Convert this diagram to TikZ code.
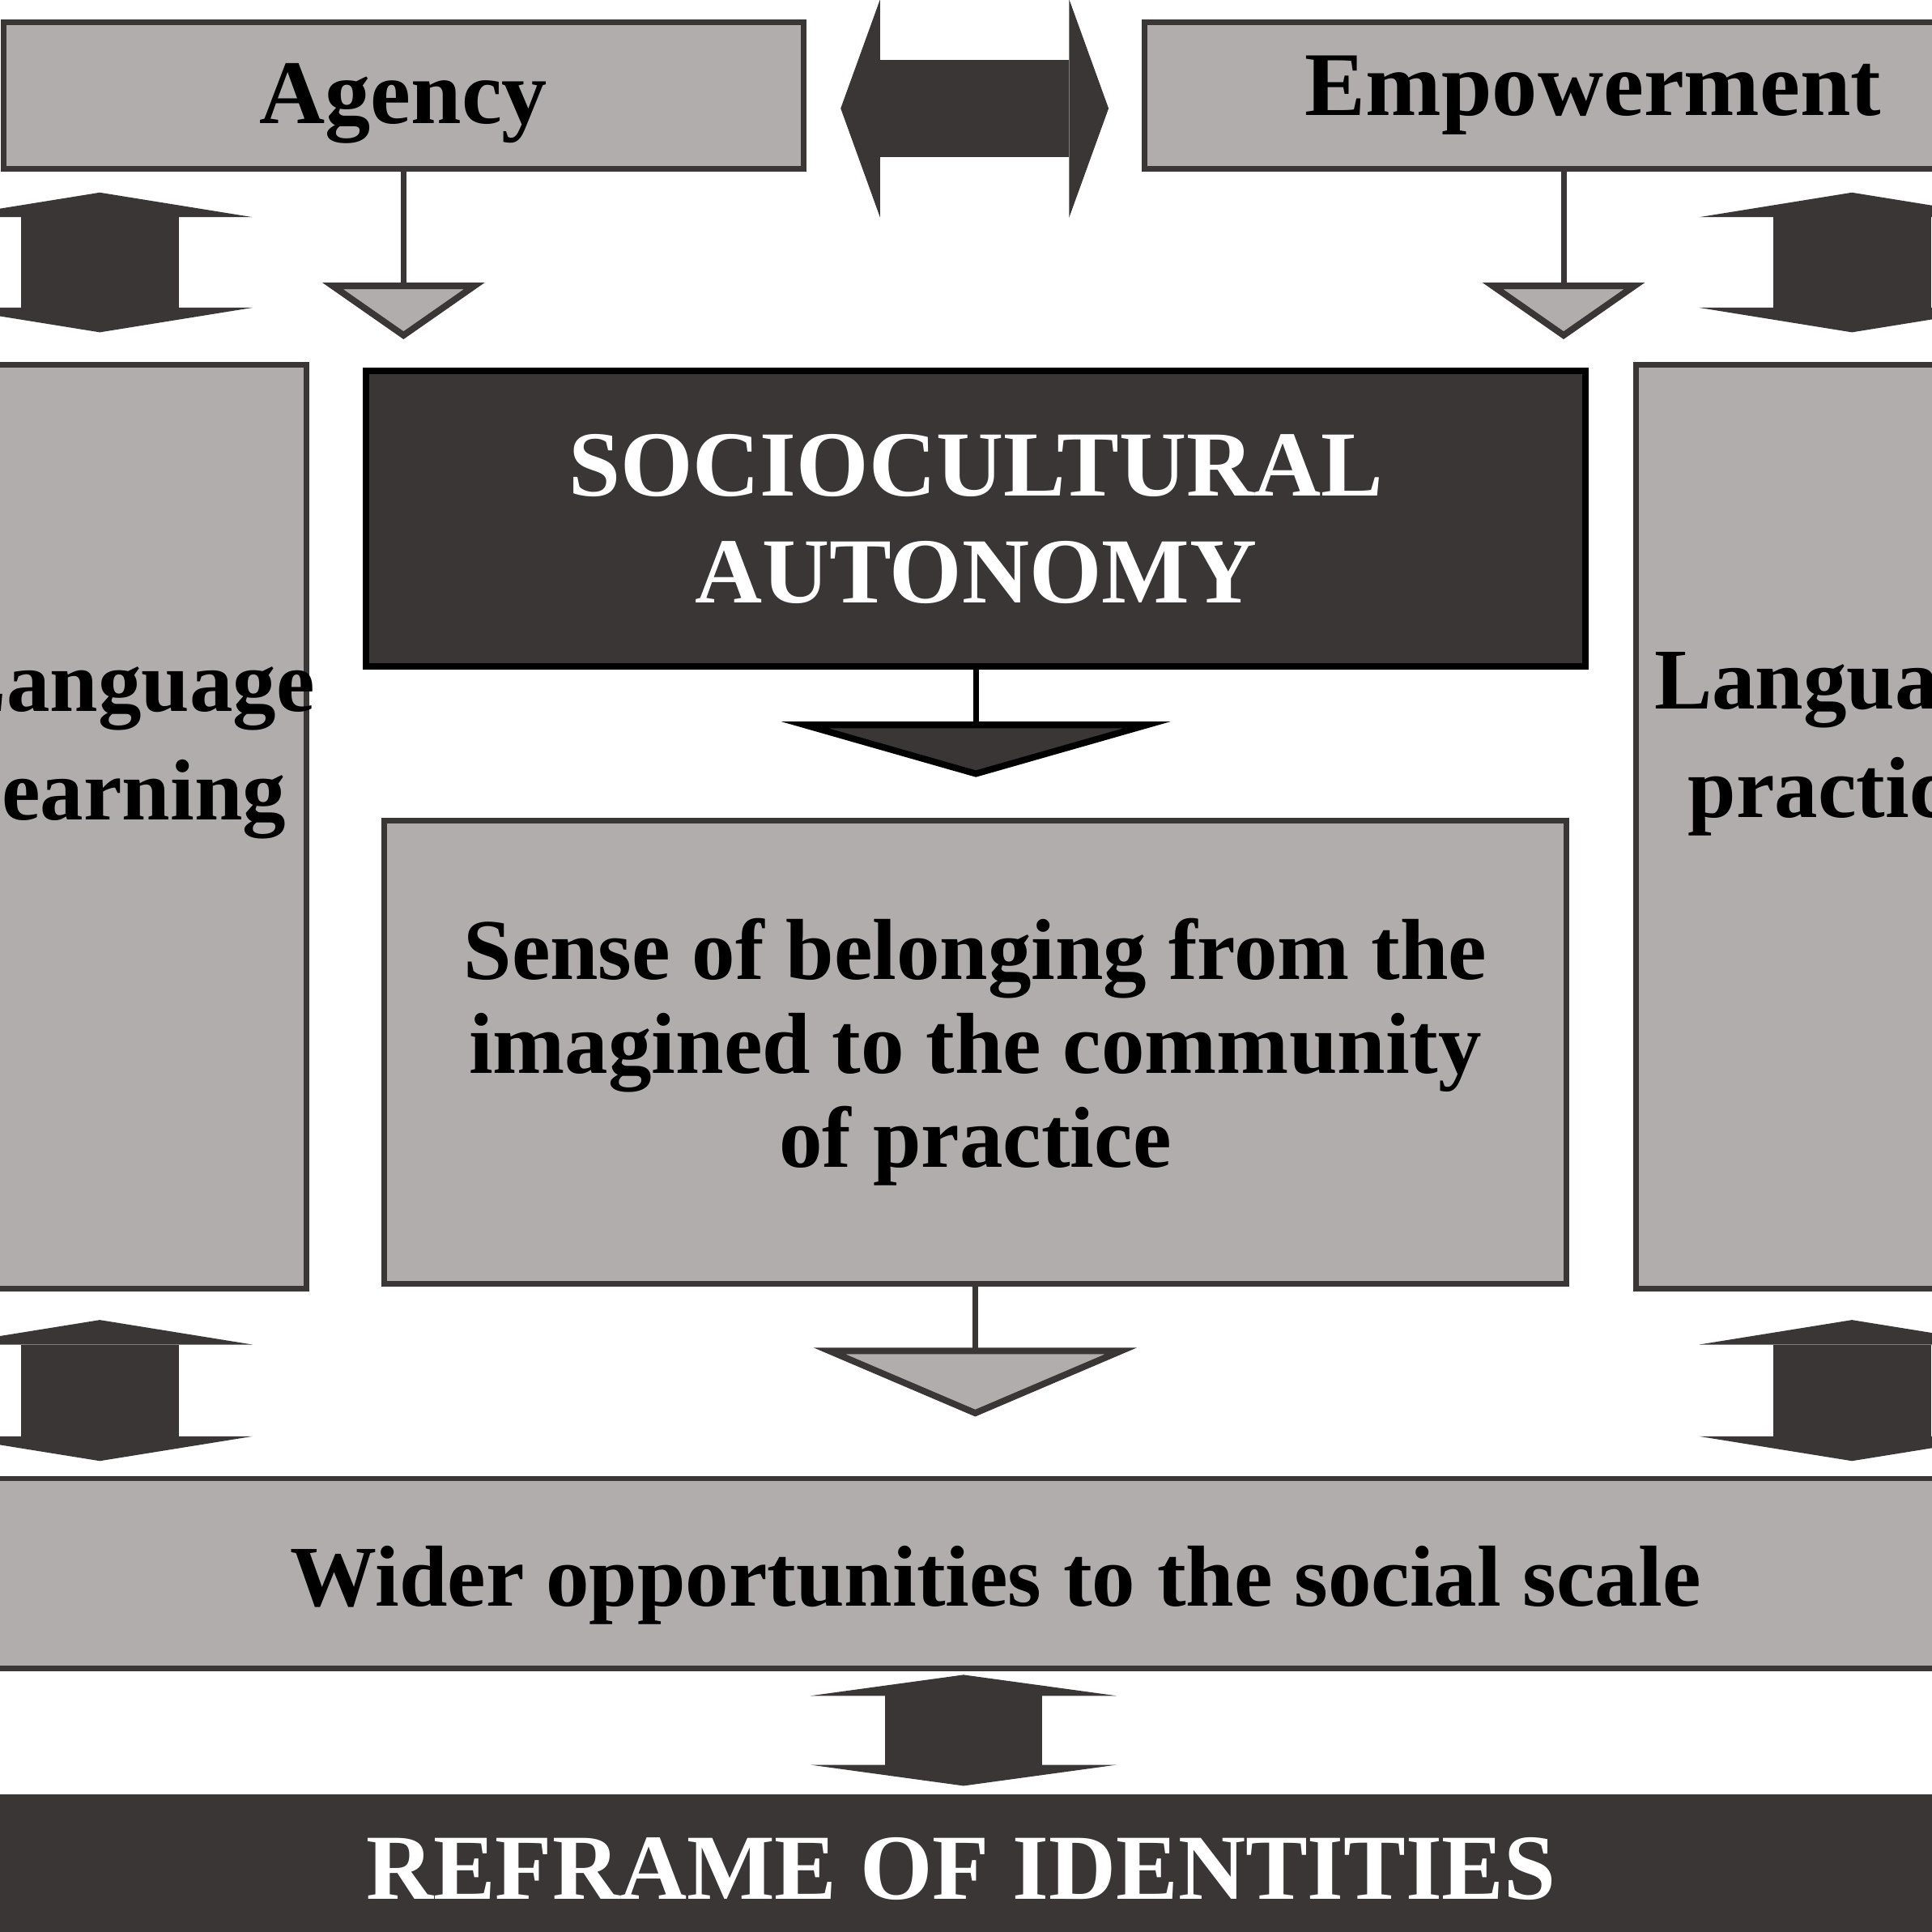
\documentclass[tikz,border=0pt]{standalone}
\usepackage{fontspec}
\setmainfont{Liberation Serif}
\usepackage{tikz}
\usetikzlibrary{
    arrows.meta,
    positioning,
    calc
}
\definecolor{boxgray}{RGB}{178,173,173}
\definecolor{inkdark}{RGB}{58,54,54}
\tikzstyle{graybox} = [
    rectangle,
    draw=inkdark,
    line width=1.3pt,
    fill=boxgray,
    inner sep=0pt,
    align=center,
    font=\bfseries\fontsize{20}{21.7}\selectfont
]
\tikzstyle{darkbox} = [
    rectangle,
    draw=black,
    line width=1.5pt,
    fill=inkdark,
    inner sep=0pt,
    text=white,
    align=center,
    font=\bfseries\fontsize{21.5}{24.7}\selectfont
]
\tikzstyle{boxtext} = [
    align=center,
    inner sep=0pt,
    font=\bfseries\fontsize{20}{25}\selectfont
]
\tikzstyle{flow} = [
    draw=inkdark,
    line width=1.3pt,
    -{Triangle[length=0.46cm 0 0, width=1.31cm 0 0, fill=boxgray, line width=1.5pt]}
]
\tikzstyle{flowwide} = [
    draw=inkdark,
    line width=1.3pt,
    -{Triangle[length=0.56cm 0 0, width=2.62cm 0 0, fill=boxgray, line width=1.5pt]}
]
\tikzstyle{flowdark} = [
    draw=black,
    line width=1.3pt,
    -{Triangle[length=0.45cm 0 0, width=3.15cm 0 0, fill=inkdark, line width=1.5pt]}
]
\tikzstyle{twoway} = [
    draw=inkdark,
    line width=1.28cm,
    {Triangle[length=0.2cm 0 0, width=2.48cm 0 0, line width=0pt 0 0]}-{Triangle[length=0.2cm 0 0, width=2.48cm 0 0, line width=0pt 0 0]}
]
\tikzstyle{twowaylow} = [
    draw=inkdark,
    line width=1.28cm,
    {Triangle[length=0.17cm 0 0, width=2.48cm 0 0, line width=0pt 0 0]}-{Triangle[length=0.17cm 0 0, width=2.48cm 0 0, line width=0pt 0 0]}
]
\tikzstyle{twowayh} = [
    draw=inkdark,
    line width=0.79cm,
    {Triangle[length=0.32cm 0 0, width=1.77cm 0 0, line width=0pt 0 0]}-{Triangle[length=0.32cm 0 0, width=1.77cm 0 0, line width=0pt 0 0]}
]

\begin{document}
\begin{tikzpicture}
    \useasboundingbox (0,0) rectangle (15.68,15.68);
    \clip (0,0) rectangle (15.68,15.68);

    % top row
    \node[graybox, minimum width=6.49cm, minimum height=1.19cm, text height=0.62cm, text depth=0.16cm, font=\bfseries\fontsize{21}{24}\selectfont] (agency) at (3.275,14.905) {Agency};
    \node[graybox, minimum width=7.28cm, minimum height=1.19cm, font=\bfseries\fontsize{21}{24}\selectfont] (empower) at (12.93,14.905) {Empowerment};

    % middle
    \node[darkbox, minimum width=9.9cm, minimum height=2.4cm] (socio) at (7.92,11.47) {SOCIOCULTURAL\\AUTONOMY};
    \node[graybox, minimum width=9.59cm, minimum height=3.76cm] (sense) at (7.915,7.14) {Sense of belonging from the\\imagined to the community\\of practice};

    % side boxes
    \node[graybox, minimum width=2.84cm, minimum height=7.5cm] (learning) at (1.07,8.97) {};
    \node[boxtext] (learningtext) at (1.07,9.62) {Language\\learning};
    \node[graybox, minimum width=3.26cm, minimum height=7.5cm] (practice) at (14.91,8.97) {};
    \node[boxtext] (practicetext) at (14.91,9.64) {Language\\practice};

    % bottom
    \node[graybox, minimum width=16.96cm, minimum height=1.54cm, text height=0.68cm, text depth=0.15cm] (wider) at (8.08,2.91) {Wider opportunities to the social scale};
    \node[darkbox, draw=none, minimum width=16.4cm, minimum height=1.22cm] (reframe) at (7.8,0.51) {REFRAME OF IDENTITIES};

    \coordinate (lcol) at (0.81,0);
    \coordinate (rcol) at (15.03,0);
    \coordinate (mcol) at (7.82,0);
    \coordinate (ecol) at (12.69,0);
    \coordinate (hrow) at (0,14.8);

    \draw[flow, shorten >=0.23cm] (agency.south) -- (agency.south |- socio.north);
    \draw[flow, shorten >=0.23cm] (empower.south -| ecol) -- (socio.north -| ecol);
    \draw[flowdark, shorten >=0.33cm] (socio.south) -- (sense.north -| socio.south);
    \draw[flowwide, shorten >=0.48cm] (sense.south) -- (sense.south |- wider.north);

    \draw[twowayh, shorten <=0.28cm, shorten >=0.27cm] (agency.east |- hrow) -- (empower.west |- hrow);
    \draw[twoway, shorten <=0.17cm, shorten >=0.24cm] (agency.south -| lcol) -- (learning.north -| lcol);
    \draw[twoway, shorten <=0.23cm, shorten >=0.12cm] (learning.south -| lcol) -- (wider.north -| lcol);
    \draw[twoway, shorten <=0.17cm, shorten >=0.24cm] (empower.south -| rcol) -- (practice.north -| rcol);
    \draw[twoway, shorten <=0.23cm, shorten >=0.12cm] (practice.south -| rcol) -- (wider.north -| rcol);
    \draw[twowaylow, shorten <=0.03cm, shorten >=0.04cm] (wider.south -| mcol) -- (reframe.north -| mcol);
\end{tikzpicture}
\end{document}
